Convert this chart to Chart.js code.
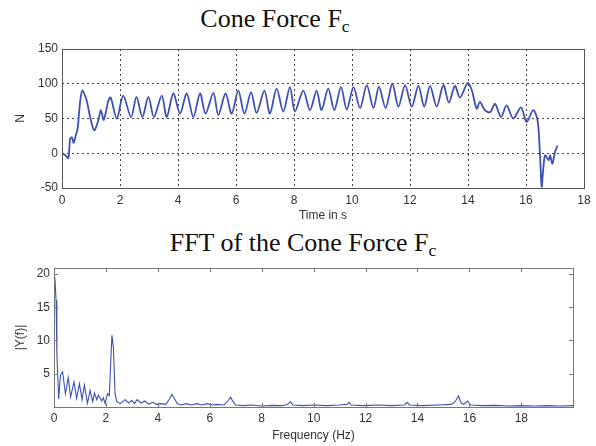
<!DOCTYPE html>
<html>
<head>
<meta charset="utf-8">
<script src="https://cdn.jsdelivr.net/npm/chart.js@4"></script>
<style>
  body { margin: 0; background: #fff; width: 596px; height: 446px; position: relative; overflow: hidden; }
  .plot-title {
    position: absolute; white-space: nowrap; transform: translateX(-50%);
    font-family: "Liberation Serif", "Times New Roman", serif; font-size: 26px; line-height: 26px; color: #111;
  }
  .plot-title span { font-size: 0.68em; position: relative; top: 0.28em; }
  canvas { position: absolute; left: 0; }
</style>
</head>
<body>
<div class="plot-title" style="left:275px; top:6px;">Cone Force F<span>c</span></div>
<div class="plot-title" style="left:303px; top:230px;">FFT of the Cone Force F<span>c</span></div>
<canvas id="forceChart" width="596" height="225" style="top:0"></canvas>
<canvas id="fftChart" width="596" height="221" style="top:225px"></canvas>
<script>
// cone force over time (s, N)
const forceTime = [0, 0.12, 0.22, 0.28, 0.34, 0.4, 0.47, 0.54, 0.62, 0.7, 0.85, 0.97, 1.11, 1.25, 1.34, 1.44,
  1.6, 1.68, 1.89, 2.11, 2.38, 2.57, 2.77, 2.98, 3.17, 3.44, 3.61, 3.84, 4.07, 4.3, 4.53, 4.76, 4.95, 5.22,
  5.39, 5.64, 5.85, 6.08, 6.29, 6.52, 6.71, 6.98, 7.17, 7.4, 7.63, 7.86, 8.03, 8.32, 8.55, 8.78, 8.95, 9.18,
  9.39, 9.62, 9.82, 10.05, 10.28, 10.51, 10.74, 10.93, 11.16, 11.39, 11.6, 11.83, 12.06, 12.29, 12.49, 12.69,
  12.92, 13.15, 13.34, 13.55, 13.72, 13.99, 14.13, 14.3, 14.41, 14.58, 14.76, 14.93, 15.14, 15.33, 15.56,
  15.83, 16.02, 16.25, 16.4, 16.48, 16.54, 16.6, 16.66, 16.78, 16.83, 16.91, 17.0, 17.09];
const forceValue = [0, -3, -7, 21, 23, 15, 25, 36, 72, 90, 76, 52, 33, 47, 62, 48,
  76, 80, 50, 83, 52, 81, 52, 81, 52, 83, 52, 86, 57, 86, 52, 86, 57, 87,
  55, 86, 57, 90, 57, 88, 58, 90, 57, 93, 60, 95, 60, 90, 62, 90, 62, 93,
  62, 95, 63, 95, 65, 98, 65, 96, 65, 100, 67, 98, 67, 97, 67, 97,
  67, 98, 73, 97, 80, 101, 91, 64, 74, 62, 59, 71, 52, 69, 50,
  66, 45, 62, 47, 0, -48, -20, -3, -10, -3, -15, 2, 11];

// single sided amplitude spectrum (Hz, |Y(f)|)
const fftFreq = [0, 0.04, 0.08, 0.11, 0.18, 0.25, 0.33, 0.44, 0.55, 0.64, 0.77, 0.87, 0.98, 1.08, 1.17, 1.29,
  1.39, 1.49, 1.56, 1.65, 1.71, 1.84, 1.9, 1.97, 2.06, 2.13, 2.23, 2.29, 2.35, 2.42, 2.55, 2.74, 2.88, 3.0,
  3.1, 3.2, 3.35, 3.5, 3.65, 3.8, 3.95, 4.1, 4.3, 4.45, 4.54, 4.65, 4.75, 4.9, 5.1, 5.3, 5.5, 5.7, 5.9,
  6.1, 6.3, 6.55, 6.7, 6.8, 6.9, 7.0, 7.3, 7.6, 8.0, 8.4, 8.8, 9.0, 9.11, 9.2, 9.6, 10.0, 10.5, 11.0, 11.3,
  11.36, 11.45, 11.9, 12.5, 13.0, 13.5, 13.6, 13.7, 14.2, 14.8, 15.3, 15.45, 15.58, 15.68, 15.78, 15.93,
  16.05, 16.5, 17.0, 17.5, 18.0, 18.5, 19.0, 19.5, 19.99];
const fftAmp = [20.6, 19, 16, 8, 1.2, 4.8, 5.3, 2.0, 4.4, 1.5, 3.8, 1.3, 3.5, 1.1, 3.3, 0.55,
  2.5, 0.8, 2.1, 1.1, 1.8, 0.9, 1.4, 0.5, 2.0, 1.7, 10.8, 8.8, 2.0, 0.8, 0.5, 1.1, 0.6, 1.0,
  0.5, 1.1, 0.6, 0.9, 0.4, 0.7, 0.4, 0.5, 0.4, 1.2, 1.9, 1.2, 0.5, 0.3, 0.5, 0.3, 0.5, 0.3, 0.5,
  0.3, 0.4, 0.3, 0.9, 1.45, 0.8, 0.3, 0.2, 0.3, 0.15, 0.25, 0.2, 0.4, 0.8, 0.3, 0.2, 0.3, 0.2, 0.3, 0.4,
  0.7, 0.3, 0.2, 0.3, 0.2, 0.3, 0.7, 0.3, 0.2, 0.3, 0.4, 0.8, 1.65, 0.6, 0.4, 0.9,
  0.3, 0.2, 0.25, 0.15, 0.2, 0.15, 0.2, 0.15, 0.2];

const lineBlue = "#3f50b4";
const tickFont = { family: "Liberation Sans, Arial, sans-serif", size: 12 };

const toPoints = (xs, ys) => xs.map((x, i) => ({ x: x, y: ys[i] }));

// box round the plot area, with matlab style inward ticks if asked
const frameBox = {
  id: "frameBox",
  afterDatasetsDraw(chart, args, opts) {
    const { ctx, chartArea: a, scales } = chart;
    ctx.save();
    ctx.strokeStyle = opts.color;
    ctx.lineWidth = 1;
    if (opts.ticks) {
      ctx.beginPath();
      scales.x.ticks.forEach((t) => {
        const px = Math.round(scales.x.getPixelForValue(t.value)) + 0.5;
        ctx.moveTo(px, a.bottom); ctx.lineTo(px, a.bottom - 4);
        ctx.moveTo(px, a.top); ctx.lineTo(px, a.top + 4);
      });
      scales.y.ticks.forEach((t) => {
        const py = Math.round(scales.y.getPixelForValue(t.value)) + 0.5;
        ctx.moveTo(a.left, py); ctx.lineTo(a.left + 4, py);
        ctx.moveTo(a.right, py); ctx.lineTo(a.right - 4, py);
      });
      ctx.stroke();
    }
    ctx.strokeRect(Math.round(a.left) + 0.5, Math.round(a.top) + 0.5,
      Math.round(a.right - a.left), Math.round(a.bottom - a.top));
    ctx.restore();
  },
};

new Chart(document.getElementById("forceChart"), {
  type: "line",
  data: {
    datasets: [{
      data: toPoints(forceTime, forceValue),
      borderColor: lineBlue,
      borderWidth: 1.8,
      pointRadius: 0,
      tension: 0.3,
    }],
  },
  options: {
    responsive: false,
    animation: false,
    layout: { padding: { top: 49, right: 12, left: 0, bottom: 0 } },
    plugins: { legend: { display: false }, tooltip: { enabled: false }, frameBox: { color: "#555" } },
    scales: {
      x: {
        type: "linear", min: 0, max: 18,
        afterFit: (scale) => { scale.height = 37; },
        ticks: { stepSize: 2, padding: 5, color: "#333", font: tickFont, maxRotation: 0 },
        grid: { color: "#444", drawTicks: false },
        border: { display: false, dash: [2, 3] },
        title: { display: true, text: "Time in s", color: "#333", font: tickFont, padding: { top: 2, bottom: 2 } },
      },
      y: {
        min: -50, max: 150,
        afterFit: (scale) => { scale.width = 62; },
        ticks: { stepSize: 50, padding: 4, color: "#333", font: tickFont },
        grid: { color: "#444", drawTicks: false },
        border: { display: false, dash: [2, 3] },
        title: { display: true, text: "N", color: "#333", font: tickFont, padding: { top: 13, bottom: 0 } },
      },
    },
  },
  plugins: [frameBox],
});

new Chart(document.getElementById("fftChart"), {
  type: "line",
  data: {
    datasets: [{
      data: toPoints(fftFreq, fftAmp),
      borderColor: lineBlue,
      borderWidth: 1.1,
      pointRadius: 0,
      tension: 0,
    }],
  },
  options: {
    responsive: false,
    animation: false,
    layout: { padding: { top: 43, right: 23, left: 0, bottom: 0 } },
    plugins: { legend: { display: false }, tooltip: { enabled: false }, frameBox: { color: "#777", ticks: true } },
    scales: {
      x: {
        type: "linear", min: 0, max: 19.99,
        afterFit: (scale) => { scale.height = 39; },
        ticks: { stepSize: 2, includeBounds: false, padding: 4, color: "#333", font: tickFont, maxRotation: 0 },
        grid: { display: false, drawTicks: false },
        border: { display: false },
        title: { display: true, text: "Frequency (Hz)", color: "#333", font: tickFont, padding: { top: 3, bottom: 3 } },
      },
      y: {
        min: 0, max: 20.9,
        afterFit: (scale) => { scale.width = 54; },
        ticks: {
          stepSize: 5, includeBounds: false, padding: 4, color: "#333", font: tickFont,
          callback: (value) => (value === 0 ? "" : value),
        },
        grid: { display: false, drawTicks: false },
        border: { display: false },
        title: { display: true, text: "|Y(f)|", color: "#333", font: tickFont, padding: { top: 13, bottom: 0 } },
      },
    },
  },
  plugins: [frameBox],
});
</script>
</body>
</html>
